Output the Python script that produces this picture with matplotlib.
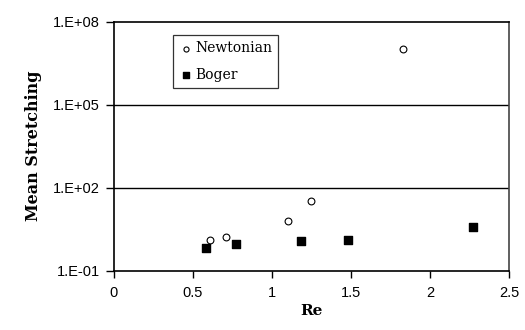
import numpy as np
import matplotlib.pyplot as plt

# Newtonian runs
re_newt = [0.61, 0.71, 1.10, 1.245, 1.825]
str_newt = [1.28, 1.7, 6.2, 34, 1.07e7]

# Boger fluid runs
re_boger = [0.58, 0.775, 1.18, 1.48, 2.27]
str_boger = [0.65, 0.90, 1.15, 1.32, 3.9]

yticks = [1e-1, 1e2, 1e5, 1e8]
ytick_labels = ['1.E-01', '1.E+02', '1.E+05', '1.E+08']
xticks = [0, 0.5, 1, 1.5, 2, 2.5]
xtick_labels = ['0', '0.5', '1', '1.5', '2', '2.5']

fig = plt.figure(figsize=(5.25, 3.3), dpi=100)
ax = fig.add_axes([0.217, 0.180, 0.753, 0.754])

ax.scatter(re_newt, str_newt, s=24, marker='o', facecolors='white',
           edgecolors='black', linewidths=0.8, label='Newtonian', zorder=3)
ax.scatter(re_boger, str_boger, s=30, marker='s', c='black',
           label='Boger', zorder=3)

ax.set_yscale('log')
ax.set_xlim(0, 2.5)
ax.set_ylim(1e-1, 1e8)
ax.set_yticks(yticks)
ax.set_yticklabels(ytick_labels, fontfamily='Liberation Sans', fontsize=10.5)
ax.minorticks_off()
ax.set_xticks(xticks)
ax.set_xticklabels(xtick_labels, fontfamily='Liberation Sans', fontsize=10.5)

for y in yticks[1:3]:
    ax.axhline(y, color='black', lw=1.0, zorder=1)

for side in ['left', 'bottom', 'top']:
    ax.spines[side].set_linewidth(1.2)
ax.spines['right'].set_linewidth(1.2)
ax.spines['right'].set_color('#444444')
ax.tick_params(axis='y', direction='out', length=6, width=1.0, pad=4)
ax.tick_params(axis='x', direction='out', length=5, width=1.0, pad=6)

ax.set_xlabel('Re', fontfamily='DejaVu Serif', fontweight='bold', fontsize=11,
              labelpad=3)
ax.set_ylabel('Mean Stretching', fontfamily='DejaVu Serif', fontweight='bold',
              fontsize=11.5, labelpad=8)

leg = ax.legend(loc='upper left', bbox_to_anchor=(0.149, 0.947), borderaxespad=0,
                frameon=True, fancybox=False, edgecolor='black',
                handletextpad=0.15, handlelength=1.0, borderpad=0.45,
                labelspacing=0.9, markerscale=0.75,
                prop={'family': 'DejaVu Serif', 'size': 10})
leg.get_frame().set_linewidth(0.9)

fig.savefig('out.png', dpi=100)
